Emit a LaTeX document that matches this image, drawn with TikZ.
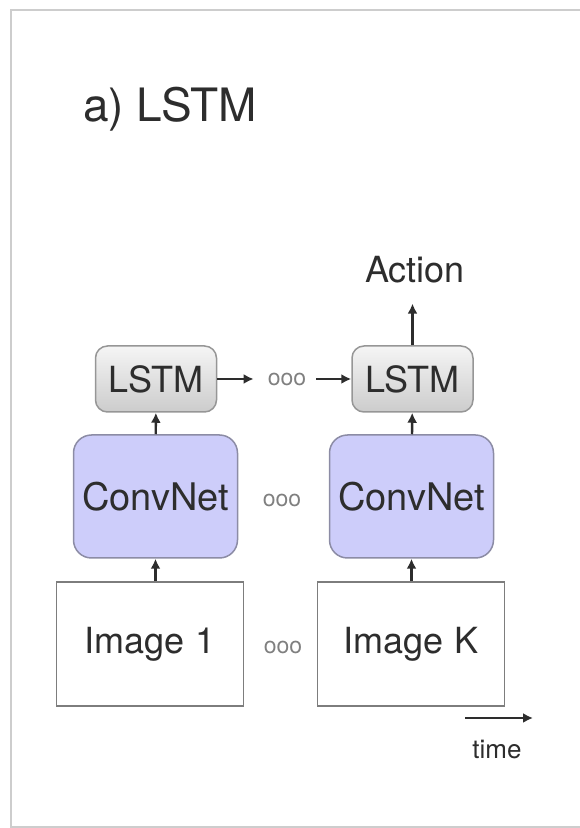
\documentclass[tikz,border=0pt]{standalone}
\usepackage{fontspec}
\setmainfont{TeX Gyre Heros}
\usetikzlibrary{calc, arrows.meta}

\definecolor{inkgray}{RGB}{45,45,45}
\definecolor{framegray}{RGB}{205,205,205}
\definecolor{convfill}{RGB}{205,205,250}
\definecolor{convline}{RGB}{140,140,165}
\definecolor{lstmline}{RGB}{150,150,150}
\definecolor{imgline}{RGB}{125,125,125}

\tikzset{
	lstmbox/.style={draw=lstmline, line width=1.5pt, rounded corners=12pt,
		top color=white!96!black, bottom color=white!80!black,
		minimum width=121pt, minimum height=66pt, inner sep=0pt,
		font=\fontsize{36}{40}\selectfont},
	convbox/.style={draw=convline, line width=1.5pt, rounded corners=18pt,
		fill=convfill, minimum width=164pt, minimum height=123pt, inner sep=0pt,
		font=\fontsize{38}{42}\selectfont},
	imgbox/.style={draw=imgline, line width=1.5pt, fill=white,
		minimum width=187pt, minimum height=124pt, inner sep=0pt,
		font=\fontsize{36}{40}\selectfont},
	dotsnode/.style={inner sep=0pt, text=gray, font=\fontsize{23}{26}\selectfont},
	flow/.style={draw=inkgray, line width=2.4pt, -{Latex[length=10pt,width=10pt]}}
}

\begin{document}
\begin{tikzpicture}[x=1pt, y=1pt, text=inkgray]

	\useasboundingbox (0,0) rectangle (580,828);

	% Card frame
	\draw[draw=framegray, line width=1.5pt] (580,818) -- (11,818) -- (11,1) -- (580,1);

	% Title
	\node[anchor=base west, inner sep=0pt, font=\fontsize{46}{50}\selectfont] (title) at (83,706) {a) LSTM};

	% First time step
	\node[lstmbox] (lstmA) at (156,449) {LSTM};
	\node[convbox] (convA) at (155.5,331.5) {ConvNet};
	\node[imgbox] (imgA) at (150,184) {Image 1};

	% Last time step
	\node[lstmbox] (lstmB) at (412.5,449) {LSTM};
	\node[convbox] (convB) at (411.5,331.5) {ConvNet};
	\node[imgbox] (imgB) at (411,184) {Image K};

	\node[inner sep=0pt, font=\fontsize{36}{40}\selectfont] (action) at (415,558) {Action};

	% Skipped steps
	\node[dotsnode] (dotsL) at (287,449) {ooo};
	\node[dotsnode] (dotsC) at (282,328) {ooo};
	\node[dotsnode] (dotsI) at (283,181) {ooo};

	% Connections
	\draw[flow] (imgA.north -| convA) -- (convA);
	\draw[flow] (convA) -- (lstmA);
	\draw[flow] (imgB.north -| convB) -- (convB);
	\draw[flow] (convB) -- (lstmB);
	\draw[flow, shorten >=14pt] (lstmA) -- (dotsL);
	\draw[flow, shorten <=10pt] (dotsL) -- (lstmB);
	\draw[flow] (lstmB.north) -- ($(lstmB.north |- action.south)+(0,-20)$);

	% Time axis
	\coordinate (timeStart) at (465,110);
	\coordinate (timeEnd) at (533,110);
	\draw[flow] (timeStart) -- (timeEnd);
	\node[font=\fontsize{26}{30}\selectfont] (time) at (497,78) {time};

\end{tikzpicture}
\end{document}
